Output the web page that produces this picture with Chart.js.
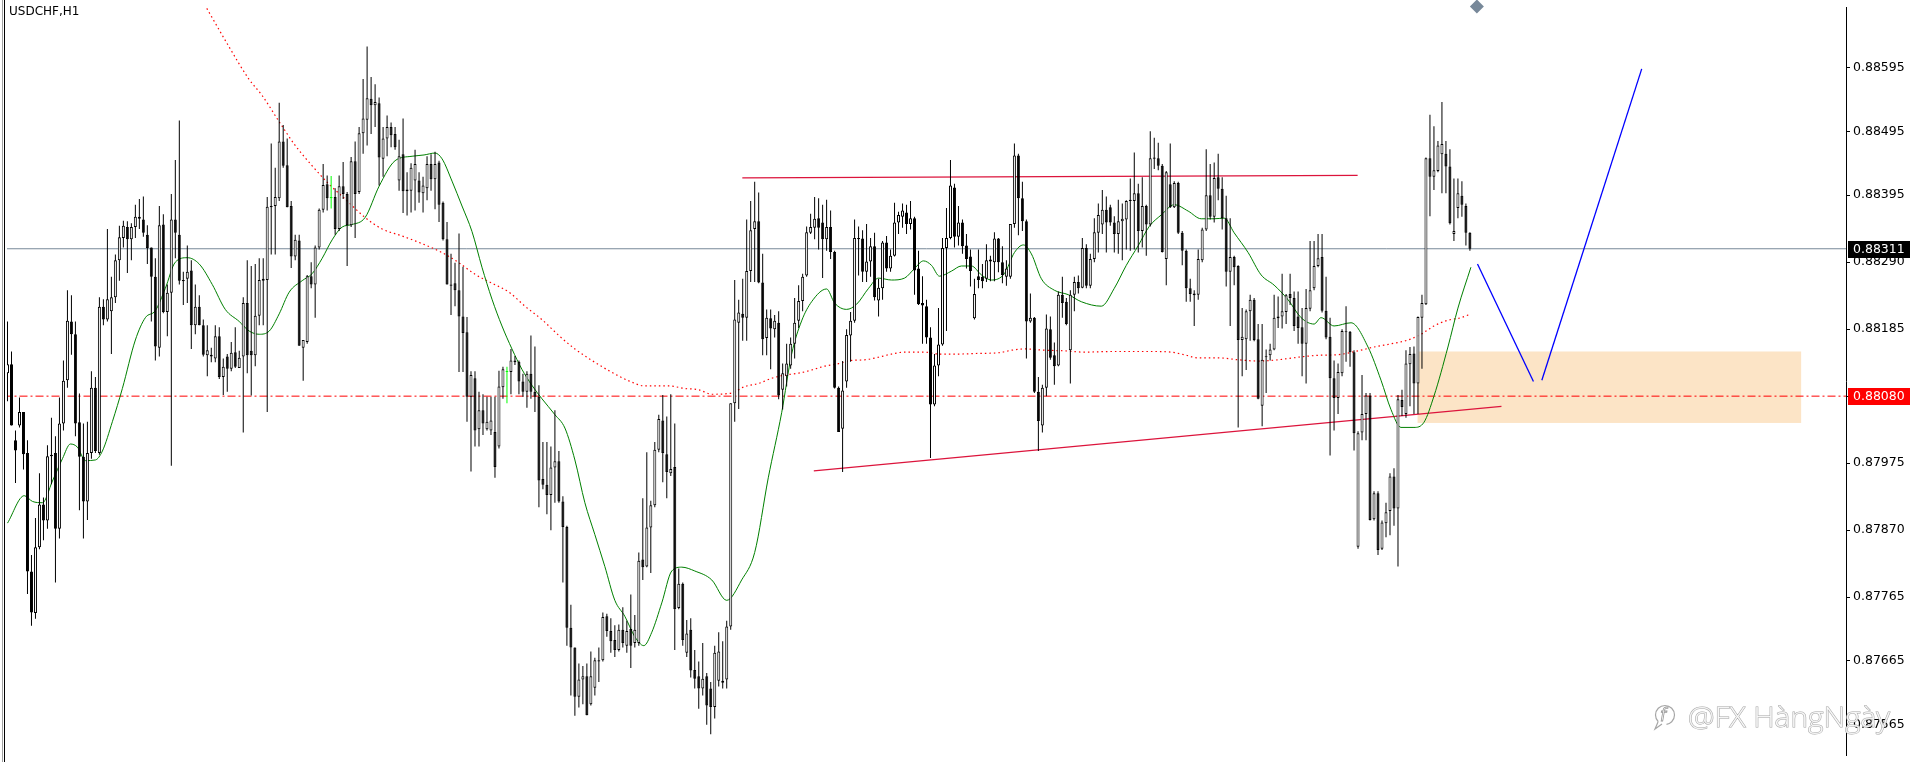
<!DOCTYPE html>
<html>
<head>
<meta charset="utf-8">
<title>USDCHF,H1</title>
<script src="https://cdn.jsdelivr.net/npm/chart.js@4.4.1/dist/chart.umd.min.js"></script>
<style>
html, body { margin: 0; padding: 0; background: #fff; overflow: hidden; }
canvas { display: block; }
</style>
</head>
<body>
<canvas id="myChart" width="1913" height="762"></canvas>
<script>
// H1 candles
var opens = [
0.88116,0.88130,0.88011,0.88034,0.88055,0.87991,0.87805,0.87740,0.87843,0.87910,
0.87885,0.87986,0.87991,0.87872,0.88037,0.88105,0.88197,0.88177,0.88039,0.87985,
0.87915,0.87991,0.88093,0.87991,0.88220,0.88200,0.88213,0.88235,0.88293,0.88328,
0.88345,0.88326,0.88345,0.88358,0.88357,0.88333,0.88313,0.88267,0.88156,0.88349,
0.88212,0.88242,0.88357,0.88333,0.88260,0.88264,0.88277,0.88191,0.88220,0.88191,
0.88144,0.88142,0.88139,0.88174,0.88110,0.88142,0.88123,0.88149,0.88124,0.88142,
0.88226,0.88151,0.88144,0.88206,0.88261,0.88262,0.88376,0.88378,0.88390,0.88479,
0.88442,0.88378,0.88299,0.88324,0.88156,0.88165,0.88268,0.88255,0.88313,0.88372,
0.88412,0.88390,0.88392,0.88342,0.88409,0.88397,0.88348,0.88448,0.88400,0.88492,
0.88513,0.88546,0.88536,0.88539,0.88452,0.88484,0.88502,0.88491,0.88418,0.88459,
0.88401,0.88402,0.88418,0.88418,0.88398,0.88406,0.88444,0.88420,0.88446,0.88383,
0.88326,0.88255,0.88257,0.88246,0.88205,0.88180,0.88079,0.88108,0.88028,0.88058,
0.88028,0.88026,0.88024,0.88001,0.88094,0.88118,0.88118,0.88133,0.88134,0.88103,
0.88087,0.88115,0.88087,0.88079,0.87950,0.87941,0.87925,0.87968,0.87978,0.87915,
0.87875,0.87717,0.87686,0.87609,0.87636,0.87641,0.87597,0.87623,0.87664,0.87666,
0.87735,0.87712,0.87698,0.87682,0.87714,0.87689,0.87715,0.87693,0.87693,0.87824,
0.87813,0.87874,0.87909,0.87996,0.88042,0.87989,0.87959,0.87969,0.87748,0.87786,
0.87678,0.87714,0.87651,0.87641,0.87622,0.87641,0.87622,0.87593,0.87634,0.87631,
0.87636,0.87719,0.88069,0.88195,0.88209,0.88203,0.88276,0.88342,0.88354,0.88258,
0.88171,0.88202,0.88185,0.88195,0.88090,0.88111,0.88128,0.88162,0.88198,0.88229,
0.88269,0.88336,0.88344,0.88359,0.88352,0.88326,0.88345,0.88306,0.88093,0.88029,
0.88103,0.88175,0.88198,0.88326,0.88327,0.88275,0.88291,0.88315,0.88230,0.88249,
0.88321,0.88280,0.88300,0.88352,0.88361,0.88368,0.88350,0.88359,0.88280,0.88226,
0.88221,0.88172,0.88067,0.88128,0.88161,0.88312,0.88328,0.88407,0.88330,0.88352,
0.88316,0.88299,0.88202,0.88268,0.88267,0.88264,0.88291,0.88290,0.88327,0.88290,
0.88267,0.88267,0.88350,0.88457,0.88390,0.88354,0.88197,0.88203,0.88087,0.88034,
0.88093,0.88185,0.88144,0.88128,0.88239,0.88228,0.88152,0.88239,0.88259,0.88250,
0.88312,0.88253,0.88295,0.88336,0.88349,0.88372,0.88376,0.88352,0.88334,0.88354,
0.88357,0.88386,0.88386,0.88398,0.88339,0.88378,0.88349,0.88452,0.88453,0.88441,
0.88295,0.88412,0.88376,0.88414,0.88336,0.88308,0.88249,0.88238,0.88239,0.88293,
0.88341,0.88395,0.88361,0.88423,0.88405,0.88359,0.88275,0.88298,0.88284,0.88168,
0.88169,0.88213,0.88231,0.88169,0.88065,0.88141,0.88144,0.88153,0.88202,0.88205,
0.88212,0.88240,0.88234,0.88205,0.88188,0.88162,0.88217,0.88249,0.88284,0.88298,
0.88214,0.88173,0.88108,0.88077,0.88116,0.88180,0.88181,0.88149,0.87844,0.88023,
0.88052,0.88081,0.87887,0.87928,0.87841,0.87881,0.87900,0.87954,0.87904,0.88074,
0.88052,0.88130,0.88147,0.88100,0.88203,0.88224,0.88453,0.88424,0.88433,0.88459,
0.88460,0.88440,0.88334,0.88375,0.88394,0.88378,0.88336
];
var highs = [
0.88197,0.88150,0.88026,0.88078,0.88055,0.88011,0.87831,0.87889,0.87959,0.87921,
0.88003,0.88046,0.88017,0.88078,0.88136,0.88246,0.88238,0.88197,0.88084,0.88037,
0.88040,0.88119,0.88110,0.88235,0.88232,0.88342,0.88267,0.88302,0.88347,0.88355,
0.88354,0.88351,0.88380,0.88389,0.88393,0.88348,0.88313,0.88296,0.88378,0.88365,
0.88255,0.88397,0.88450,0.88512,0.88275,0.88316,0.88293,0.88255,0.88238,0.88200,
0.88191,0.88156,0.88191,0.88188,0.88139,0.88146,0.88165,0.88188,0.88151,0.88235,
0.88293,0.88284,0.88287,0.88296,0.88296,0.88392,0.88476,0.88438,0.88540,0.88505,
0.88484,0.88386,0.88333,0.88333,0.88168,0.88270,0.88290,0.88316,0.88374,0.88444,
0.88426,0.88425,0.88406,0.88426,0.88447,0.88400,0.88455,0.88479,0.88502,0.88577,
0.88628,0.88580,0.88569,0.88548,0.88502,0.88520,0.88509,0.88502,0.88482,0.88515,
0.88431,0.88445,0.88466,0.88431,0.88424,0.88456,0.88459,0.88463,0.88449,0.88385,
0.88353,0.88303,0.88289,0.88335,0.88283,0.88204,0.88119,0.88119,0.88087,0.88083,
0.88079,0.88079,0.88079,0.88120,0.88126,0.88126,0.88154,0.88143,0.88136,0.88115,
0.88119,0.88175,0.88158,0.88097,0.88008,0.88008,0.88001,0.88058,0.87994,0.87923,
0.87877,0.87753,0.87686,0.87661,0.87657,0.87661,0.87680,0.87670,0.87686,0.87741,
0.87739,0.87732,0.87721,0.87722,0.87749,0.87728,0.87769,0.87737,0.87835,0.87920,
0.87992,0.87916,0.88008,0.88051,0.88082,0.88048,0.88083,0.88037,0.87810,0.87788,
0.87729,0.87732,0.87682,0.87664,0.87693,0.87646,0.87632,0.87689,0.87710,0.87696,
0.87728,0.88069,0.88262,0.88231,0.88264,0.88357,0.88386,0.88416,0.88399,0.88303,
0.88216,0.88216,0.88207,0.88213,0.88131,0.88162,0.88172,0.88234,0.88254,0.88272,
0.88346,0.88366,0.88392,0.88390,0.88380,0.88388,0.88371,0.88308,0.88095,0.88135,
0.88185,0.88212,0.88357,0.88346,0.88340,0.88350,0.88328,0.88336,0.88264,0.88323,
0.88331,0.88310,0.88383,0.88369,0.88382,0.88380,0.88386,0.88361,0.88308,0.88268,
0.88231,0.88188,0.88146,0.88218,0.88328,0.88375,0.88450,0.88413,0.88378,0.88357,
0.88334,0.88310,0.88264,0.88310,0.88287,0.88318,0.88300,0.88337,0.88328,0.88315,
0.88293,0.88350,0.88476,0.88460,0.88416,0.88357,0.88241,0.88204,0.88110,0.88098,
0.88208,0.88205,0.88164,0.88244,0.88267,0.88234,0.88246,0.88267,0.88269,0.88328,
0.88318,0.88303,0.88359,0.88382,0.88403,0.88393,0.88380,0.88362,0.88388,0.88382,
0.88387,0.88421,0.88462,0.88413,0.88423,0.88380,0.88495,0.88485,0.88477,0.88444,
0.88433,0.88476,0.88417,0.88416,0.88339,0.88310,0.88264,0.88246,0.88310,0.88344,
0.88467,0.88444,0.88446,0.88460,0.88423,0.88394,0.88359,0.88300,0.88285,0.88218,
0.88216,0.88239,0.88234,0.88193,0.88193,0.88153,0.88162,0.88239,0.88236,0.88272,
0.88240,0.88272,0.88244,0.88244,0.88218,0.88248,0.88323,0.88323,0.88334,0.88334,
0.88267,0.88203,0.88136,0.88131,0.88185,0.88221,0.88182,0.88152,0.88025,0.88113,
0.88085,0.88085,0.87931,0.87931,0.87885,0.87913,0.87959,0.87967,0.88082,0.88090,
0.88152,0.88157,0.88158,0.88205,0.88239,0.88454,0.88521,0.88503,0.88480,0.88541,
0.88480,0.88467,0.88421,0.88421,0.88417,0.88382,0.88337
];
var lows = [
0.88072,0.88034,0.87944,0.88031,0.87965,0.87770,0.87720,0.87731,0.87840,0.87854,
0.87872,0.87942,0.87788,0.87857,0.88026,0.88093,0.88145,0.88017,0.87901,0.87857,
0.87886,0.87982,0.87991,0.87988,0.88191,0.88197,0.88146,0.88226,0.88261,0.88313,
0.88273,0.88293,0.88328,0.88342,0.88330,0.88287,0.88197,0.88136,0.88142,0.88210,
0.88174,0.87971,0.88296,0.88255,0.88223,0.88226,0.88154,0.88177,0.88191,0.88142,
0.88111,0.88133,0.88133,0.88107,0.88082,0.88087,0.88119,0.88124,0.88124,0.88023,
0.88116,0.88081,0.88127,0.88191,0.88191,0.88055,0.88302,0.88302,0.88386,0.88438,
0.88376,0.88281,0.88293,0.88159,0.88104,0.88162,0.88249,0.88203,0.88310,0.88368,
0.88371,0.88374,0.88333,0.88339,0.88389,0.88284,0.88345,0.88328,0.88397,0.88460,
0.88473,0.88491,0.88502,0.88410,0.88424,0.88456,0.88470,0.88466,0.88402,0.88367,
0.88363,0.88368,0.88371,0.88383,0.88368,0.88387,0.88402,0.88373,0.88353,0.88324,
0.88255,0.88207,0.88221,0.88118,0.88118,0.88040,0.87962,0.88001,0.88001,0.88019,
0.88026,0.88019,0.87952,0.87998,0.88076,0.88069,0.88083,0.88129,0.88083,0.88079,
0.88062,0.88076,0.88055,0.87906,0.87934,0.87895,0.87870,0.87913,0.87913,0.87788,
0.87689,0.87611,0.87579,0.87592,0.87597,0.87580,0.87595,0.87611,0.87632,0.87664,
0.87703,0.87678,0.87671,0.87680,0.87686,0.87678,0.87654,0.87686,0.87689,0.87792,
0.87812,0.87803,0.87906,0.87992,0.87945,0.87920,0.87955,0.87682,0.87746,0.87689,
0.87671,0.87639,0.87622,0.87590,0.87611,0.87565,0.87550,0.87575,0.87625,0.87622,
0.87622,0.87714,0.88040,0.88060,0.88167,0.88167,0.88259,0.88259,0.88257,0.88144,
0.88144,0.88122,0.88172,0.88075,0.88059,0.88095,0.88123,0.88139,0.88187,0.88213,
0.88267,0.88334,0.88326,0.88310,0.88265,0.88308,0.88295,0.88092,0.88024,0.87961,
0.88093,0.88134,0.88195,0.88269,0.88259,0.88259,0.88267,0.88230,0.88205,0.88231,
0.88275,0.88275,0.88299,0.88334,0.88344,0.88334,0.88341,0.88239,0.88223,0.88162,
0.88162,0.87983,0.88064,0.88111,0.88159,0.88182,0.88326,0.88313,0.88316,0.88303,
0.88280,0.88252,0.88200,0.88249,0.88249,0.88259,0.88260,0.88260,0.88274,0.88257,
0.88253,0.88264,0.88344,0.88332,0.88339,0.88139,0.88195,0.88085,0.87994,0.88023,
0.88080,0.88137,0.88098,0.88127,0.88203,0.88191,0.88100,0.88213,0.88241,0.88249,
0.88249,0.88249,0.88290,0.88305,0.88334,0.88305,0.88347,0.88305,0.88303,0.88293,
0.88310,0.88308,0.88310,0.88305,0.88313,0.88300,0.88346,0.88436,0.88434,0.88305,
0.88254,0.88375,0.88375,0.88334,0.88285,0.88228,0.88228,0.88190,0.88231,0.88290,
0.88339,0.88357,0.88352,0.88387,0.88341,0.88252,0.88190,0.88254,0.88031,0.88111,
0.88121,0.88167,0.88166,0.88075,0.88033,0.88085,0.88136,0.88152,0.88187,0.88186,
0.88193,0.88223,0.88182,0.88162,0.88111,0.88100,0.88213,0.88246,0.88282,0.88211,
0.88169,0.87987,0.88026,0.88052,0.88111,0.88134,0.88126,0.87995,0.87841,0.88011,
0.88011,0.87885,0.87885,0.87831,0.87839,0.87859,0.87862,0.87877,0.87813,0.88049,
0.88046,0.88064,0.88052,0.88052,0.88123,0.88223,0.88362,0.88403,0.88431,0.88398,
0.88398,0.88349,0.88323,0.88359,0.88361,0.88316,0.88308
];
var closes = [
0.88130,0.88034,0.87995,0.88055,0.87989,0.87805,0.87741,0.87843,0.87910,0.87885,
0.87986,0.87988,0.87872,0.88037,0.88104,0.88198,0.88177,0.88037,0.87985,0.87915,
0.87991,0.88093,0.87994,0.88220,0.88200,0.88232,0.88235,0.88293,0.88329,0.88347,
0.88326,0.88345,0.88361,0.88361,0.88336,0.88312,0.88267,0.88158,0.88348,0.88212,
0.88242,0.88357,0.88336,0.88261,0.88262,0.88275,0.88191,0.88220,0.88191,0.88145,
0.88152,0.88145,0.88174,0.88110,0.88126,0.88123,0.88148,0.88126,0.88140,0.88226,
0.88144,0.88144,0.88206,0.88262,0.88264,0.88377,0.88378,0.88392,0.88479,0.88441,
0.88376,0.88299,0.88325,0.88159,0.88168,0.88268,0.88255,0.88313,0.88372,0.88411,
0.88390,0.88392,0.88342,0.88409,0.88397,0.88348,0.88448,0.88397,0.88492,0.88515,
0.88547,0.88536,0.88541,0.88454,0.88484,0.88502,0.88489,0.88470,0.88456,0.88401,
0.88404,0.88438,0.88444,0.88399,0.88410,0.88444,0.88420,0.88444,0.88380,0.88326,
0.88255,0.88253,0.88246,0.88205,0.88179,0.88079,0.88113,0.88026,0.88058,0.88037,
0.88040,0.88042,0.87969,0.88095,0.88122,0.88119,0.88136,0.88136,0.88103,0.88087,
0.88115,0.88087,0.88079,0.87948,0.87941,0.87925,0.87968,0.87978,0.87915,0.87875,
0.87717,0.87686,0.87609,0.87636,0.87641,0.87580,0.87641,0.87666,0.87666,0.87734,
0.87712,0.87696,0.87682,0.87714,0.87693,0.87712,0.87689,0.87714,0.87822,0.87812,
0.87874,0.87909,0.87996,0.88044,0.87991,0.87961,0.87966,0.87746,0.87786,0.87698,
0.87708,0.87650,0.87637,0.87622,0.87637,0.87595,0.87593,0.87678,0.87680,0.87634,
0.87719,0.88069,0.88200,0.88211,0.88203,0.88276,0.88340,0.88354,0.88258,0.88169,
0.88203,0.88186,0.88198,0.88081,0.88116,0.88131,0.88162,0.88195,0.88229,0.88267,
0.88337,0.88345,0.88358,0.88344,0.88326,0.88345,0.88306,0.88093,0.88024,0.88089,
0.88176,0.88198,0.88328,0.88328,0.88275,0.88291,0.88315,0.88235,0.88250,0.88321,
0.88280,0.88300,0.88352,0.88364,0.88371,0.88350,0.88359,0.88277,0.88224,0.88222,
0.88172,0.88067,0.88128,0.88161,0.88312,0.88328,0.88410,0.88330,0.88352,0.88315,
0.88295,0.88276,0.88240,0.88262,0.88260,0.88293,0.88294,0.88327,0.88290,0.88270,
0.88280,0.88350,0.88457,0.88390,0.88354,0.88197,0.88203,0.88087,0.88041,0.88093,
0.88186,0.88140,0.88127,0.88239,0.88226,0.88193,0.88239,0.88259,0.88249,0.88312,
0.88253,0.88295,0.88337,0.88364,0.88372,0.88352,0.88352,0.88334,0.88354,0.88358,
0.88386,0.88388,0.88398,0.88339,0.88378,0.88349,0.88453,0.88454,0.88441,0.88306,
0.88431,0.88376,0.88414,0.88336,0.88308,0.88249,0.88240,0.88241,0.88295,0.88341,
0.88395,0.88361,0.88422,0.88405,0.88359,0.88275,0.88298,0.88282,0.88168,0.88173,
0.88213,0.88231,0.88168,0.88076,0.88137,0.88142,0.88153,0.88203,0.88205,0.88213,
0.88238,0.88234,0.88190,0.88187,0.88162,0.88218,0.88246,0.88284,0.88296,0.88214,
0.88172,0.88108,0.88077,0.88118,0.88182,0.88181,0.88149,0.88022,0.88022,0.88052,
0.88081,0.87886,0.87928,0.87839,0.87882,0.87898,0.87954,0.87904,0.88075,0.88063,
0.88131,0.88146,0.88100,0.88204,0.88226,0.88453,0.88424,0.88434,0.88473,0.88475,
0.88440,0.88351,0.88339,0.88398,0.88380,0.88336,0.88311
];
var limeBars = [81, 125];

// price scale labels on the right
var yTicks = [0.87565, 0.87665, 0.87765, 0.87870, 0.87975, 0.88080, 0.88185, 0.88290, 0.88395, 0.88495, 0.88595];
var lastPrice = 0.88311;
var levelPrice = 0.88080;

// moving averages, [bar index, price]
var maFast = [
[0,0.87881],[4.2,0.87924],[6.25,0.87915],[8.75,0.87913],[11.25,0.87947],[13.75,0.87982],[15.75,0.88005],[17.5,0.88000],
[19.5,0.87979],[22,0.87980],[23.75,0.87994],[26.25,0.88040],[28.75,0.88092],[32,0.88168],[34.5,0.88203],[37,0.88214],
[39.5,0.88249],[42,0.88290],[45,0.88297],[48,0.88287],[51.25,0.88255],[54.5,0.88216],[58,0.88197],[60.5,0.88182],
[63,0.88177],[65.5,0.88182],[68,0.88209],[70.5,0.88243],[73.75,0.88261],[76.25,0.88272],[78.75,0.88296],[81.25,0.88325],
[83.75,0.88345],[86.25,0.88349],[89.5,0.88360],[93,0.88409],[97,0.88449],[101.25,0.88456],[104.25,0.88458],[107,0.88461],
[108.75,0.88452],[111.25,0.88417],[113.75,0.88378],[116.25,0.88338],[118.75,0.88282],[121.25,0.88232],[123.75,0.88190],
[126.25,0.88154],[128.75,0.88122],[131.25,0.88097],[133.75,0.88076],[137,0.88051],[139.5,0.88030],[142,0.87980],
[144.5,0.87913],[147,0.87863],[149.5,0.87813],[152,0.87760],[154.5,0.87735],[157,0.87703],[159.25,0.87689],[161.25,0.87710],
[163.75,0.87756],[166.25,0.87806],[168.75,0.87812],[172,0.87806],[176.25,0.87792],[180,0.87760],[183.75,0.87792],
[187,0.87835],[190.4,0.87952],[193.75,0.88054],[196.25,0.88146],[198.75,0.88198],[201.25,0.88228],[205,0.88248],
[207,0.88226],[210,0.88216],[212.5,0.88224],[215.5,0.88249],[218,0.88265],[221.25,0.88262],[224.5,0.88265],[227,0.88280],
[229.25,0.88292],[231.25,0.88285],[233.25,0.88268],[236.25,0.88276],[238.75,0.88284],[241.25,0.88284],[243.75,0.88270],
[246.25,0.88262],[249.5,0.88272],[252,0.88305],[254.25,0.88317],[256.25,0.88303],[258.75,0.88264],[262,0.88246],
[265.5,0.88239],[268.75,0.88228],[273.75,0.88221],[277,0.88249],[280,0.88285],[283,0.88316],[285.75,0.88346],
[288.75,0.88364],[292,0.88380],[295.5,0.88370],[298.75,0.88358],[302,0.88358],[304.5,0.88359],[307,0.88336],
[310.5,0.88305],[313.75,0.88270],[317,0.88254],[320.5,0.88231],[323.75,0.88203],[327,0.88193],[328.75,0.88203],
[332,0.88190],[336.25,0.88195],[340.5,0.88157],[343.75,0.88105],[346.25,0.88059],[348.75,0.88031],[352,0.88031],
[354.5,0.88039],[357,0.88080],[360.5,0.88157],[363,0.88218],[366.25,0.88282]
];
var maSlow = [
[48.75,0.88700],[55.4,0.88628],[60.4,0.88577],[63.75,0.88551],[68,0.88510],[72,0.88473],[76.25,0.88441],[80.5,0.88412],
[84.5,0.88389],[89.5,0.88360],[93.75,0.88342],[98.75,0.88331],[103.75,0.88319],[108.75,0.88305],[113,0.88289],
[117,0.88271],[121.25,0.88257],[125.5,0.88243],[129.5,0.88221],[133.75,0.88200],[138,0.88175],[142,0.88154],
[146.25,0.88136],[150.5,0.88120],[155.5,0.88104],[159.5,0.88096],[165.5,0.88096],[169.5,0.88092],[173,0.88090],
[176.25,0.88083],[181.25,0.88085],[184.5,0.88095],[188,0.88100],[191.25,0.88108],[194.5,0.88113],[198,0.88116],
[201.25,0.88121],[204.5,0.88127],[208,0.88131],[211.25,0.88136],[214.5,0.88137],[218,0.88141],[221.25,0.88146],
[224.5,0.88149],[229.5,0.88149],[233,0.88146],[238,0.88146],[243,0.88147],[248,0.88148],[251.25,0.88152],
[254.5,0.88154],[259.5,0.88152],[264.5,0.88151],[269.5,0.88149],[276.25,0.88150],[281.25,0.88150],[286.25,0.88150],
[291.25,0.88149],[294.5,0.88145],[298,0.88140],[303,0.88140],[308,0.88137],[313,0.88135],[318,0.88137],[323,0.88141],
[328,0.88144],[333,0.88145],[338,0.88151],[342,0.88157],[346.25,0.88162],[350.5,0.88168],[353.75,0.88177],
[357,0.88190],[360.5,0.88199],[363.75,0.88203],[366.25,0.88209]
];

// hand drawn objects
var resistLine = [[183.9, 0.88422], [337.9, 0.88426]];
var supportLine = [[201.8, 0.87963], [373.9, 0.88064]];
var pathDown = [[367.9, 0.88287], [381.9, 0.88103]];
var pathUp = [[384.0, 0.88105], [409.0, 0.88593]];
var zoneX = [352.9, 448.9];
var zoneY = [0.88038, 0.88150];
var marker = [[367.75, 0.886907]];

function pts(arr) {
    return arr.map(function(p) { return {x: p[0], y: p[1]}; });
}

var bodies = opens.map(function(o, i) {
    return {x: i, y: [Math.min(o, closes[i]), Math.max(o, closes[i])]};
});
var wicks = opens.map(function(o, i) {
    return {x: i, y: [lows[i], highs[i]]};
});
var bodyFill = opens.map(function(o, i) {
    if (limeBars.indexOf(i) >= 0) return '#00FF00';
    return closes[i] >= o ? '#FFFFFF' : '#000000';
});
var edgeColor = opens.map(function(o, i) {
    return limeBars.indexOf(i) >= 0 ? '#00FF00' : '#000000';
});

var overlay = {
    id: 'overlay',
    beforeDraw: function(chart) {
        var c = chart.ctx;
        c.save();
        c.fillStyle = '#FFFFFF';
        c.fillRect(0, 0, chart.width, chart.height);
        c.restore();
    },
    beforeDatasetsDraw: function(chart) {
        var c = chart.ctx, x = chart.scales.x, y = chart.scales.y, a = chart.chartArea;
        c.save();
        c.beginPath();
        c.rect(a.left, a.top, a.right - a.left, a.bottom - a.top);
        c.clip();
        var x1 = x.getPixelForValue(zoneX[0]), x2 = x.getPixelForValue(zoneX[1]);
        var y1 = y.getPixelForValue(zoneY[1]), y2 = y.getPixelForValue(zoneY[0]);
        c.fillStyle = '#FCE4C6';
        c.fillRect(x1, y1, x2 - x1, y2 - y1);
        c.restore();
    },
    afterDraw: function(chart) {
        var c = chart.ctx, y = chart.scales.y;
        c.save();
        // left frame
        c.fillStyle = '#A0A0A0';
        c.fillRect(2, 0, 1, chart.height);
        c.fillStyle = '#000000';
        c.fillRect(4, 0, 1, chart.height);

        c.font = '12px "DejaVu Sans"';
        c.textBaseline = 'alphabetic';
        c.fillStyle = '#000000';
        c.fillText('USDCHF,H1', 9, 15);

        // price boxes on the scale
        c.font = '12.5px "DejaVu Sans"';
        c.textBaseline = 'middle';
        var py = y.getPixelForValue(lastPrice);
        c.fillStyle = '#000000';
        c.fillRect(1848, Math.round(py) - 8, 62, 17);
        c.fillStyle = '#FFFFFF';
        c.fillText(lastPrice.toFixed(5), 1853, py + 0.5);
        py = y.getPixelForValue(levelPrice);
        c.fillStyle = '#FF0000';
        c.fillRect(1848, Math.round(py) - 8, 62, 17);
        c.fillStyle = '#FFFFFF';
        c.fillText(levelPrice.toFixed(5), 1853, py + 0.5);

        // watermark
        c.font = '300 27px "Open Sans"';
        c.textBaseline = 'alphabetic';
        var txt = '@FX HàngNgày';
        var w = c.measureText(txt).width;
        c.translate(1688, 727);
        c.scale(202 / w, 1);
        c.lineWidth = 1;
        c.strokeStyle = '#A6A6A6';
        c.strokeText(txt, 0, 0);
        c.fillStyle = 'rgba(255,255,255,0.85)';
        c.fillText(txt, 0, 0);
        c.setTransform(1, 0, 0, 1, 0, 0);
        c.strokeStyle = '#A6A6A6';
        c.lineWidth = 1.2;
        c.beginPath();
        c.arc(1665, 715, 9.5, 0.75 * Math.PI, 2.45 * Math.PI);
        c.stroke();
        c.beginPath();
        c.moveTo(1658, 722);
        c.lineTo(1655, 729);
        c.lineTo(1662, 724);
        c.stroke();
        c.font = 'italic 17px "DejaVu Sans"';
        c.fillStyle = '#FFFFFF';
        c.strokeStyle = '#9A9A9A';
        c.lineWidth = 0.8;
        c.strokeText('f', 1660, 721);
        c.restore();
    }
};

var ctx = document.getElementById('myChart');
var myChart = new Chart(ctx, {
    type: 'bar',
    data: {
        datasets: [{
            type: 'bar',
            data: bodies,
            backgroundColor: bodyFill,
            borderColor: edgeColor,
            borderWidth: 1,
            borderSkipped: false,
            barThickness: 3,
            maxBarThickness: 3,
            minBarLength: 1,
            inflateAmount: 0,
            grouped: false,
            order: 1
        }, {
            type: 'bar',
            data: wicks,
            backgroundColor: edgeColor,
            borderWidth: 0,
            barThickness: 1,
            maxBarThickness: 1,
            inflateAmount: 0,
            grouped: false,
            order: 2
        }, {
            type: 'line',
            data: pts(maFast),
            borderColor: '#008000',
            borderWidth: 1,
            pointRadius: 0,
            cubicInterpolationMode: 'monotone',
            order: 3
        }, {
            type: 'line',
            data: pts(maSlow),
            borderColor: '#FF0000',
            borderWidth: 1.2,
            borderDash: [1.5, 3],
            pointRadius: 0,
            cubicInterpolationMode: 'monotone',
            order: 3
        }, {
            type: 'line',
            data: [{x: -1, y: lastPrice}, {x: 461, y: lastPrice}],
            borderColor: '#778899',
            borderWidth: 1,
            pointRadius: 0,
            order: 4
        }, {
            type: 'line',
            data: [{x: -1, y: levelPrice}, {x: 461, y: levelPrice}],
            borderColor: '#FF0000',
            borderWidth: 1,
            borderDash: [8, 3, 2, 3],
            pointRadius: 0,
            order: 4
        }, {
            type: 'line',
            data: pts(resistLine),
            borderColor: '#DC143C',
            borderWidth: 1.3,
            pointRadius: 0,
            order: 3
        }, {
            type: 'line',
            data: pts(supportLine),
            borderColor: '#DC143C',
            borderWidth: 1.3,
            pointRadius: 0,
            order: 3
        }, {
            type: 'line',
            data: pts(pathDown),
            borderColor: '#0000FF',
            borderWidth: 1.3,
            pointRadius: 0,
            order: 3
        }, {
            type: 'line',
            data: pts(pathUp),
            borderColor: '#0000FF',
            borderWidth: 1.3,
            pointRadius: 0,
            order: 3
        }, {
            type: 'line',
            data: pts(marker),
            showLine: false,
            pointStyle: 'rectRot',
            pointRadius: 7,
            pointBackgroundColor: '#778899',
            pointBorderWidth: 0,
            clip: false,
            order: 0
        }]
    },
    options: {
        responsive: false,
        animation: false,
        layout: { padding: { left: 5, right: 0, top: 0, bottom: 0 } },
        plugins: {
            legend: { display: false },
            tooltip: { enabled: false }
        },
        scales: {
            x: {
                type: 'linear',
                display: false,
                offset: false,
                min: -0.125,
                max: 460.125
            },
            y: {
                type: 'linear',
                position: 'right',
                min: 0.875176,
                max: 0.886899,
                beginAtZero: false,
                afterBuildTicks: function(scale) {
                    scale.ticks = yTicks.map(function(v) { return {value: v}; });
                },
                afterFit: function(scale) {
                    scale.width = 67;
                    scale.paddingTop = 0;
                    scale.paddingBottom = 0;
                },
                grid: { drawOnChartArea: false, drawTicks: true, tickLength: 4, color: '#000000' },
                border: { display: true, color: '#000000', width: 1 },
                ticks: {
                    autoSkip: false,
                    padding: 3,
                    color: '#000000',
                    font: { family: 'DejaVu Sans', size: 12.5 },
                    callback: function(v) { return Number(v).toFixed(5); }
                }
            }
        }
    },
    plugins: [overlay]
});
</script>
</body>
</html>
